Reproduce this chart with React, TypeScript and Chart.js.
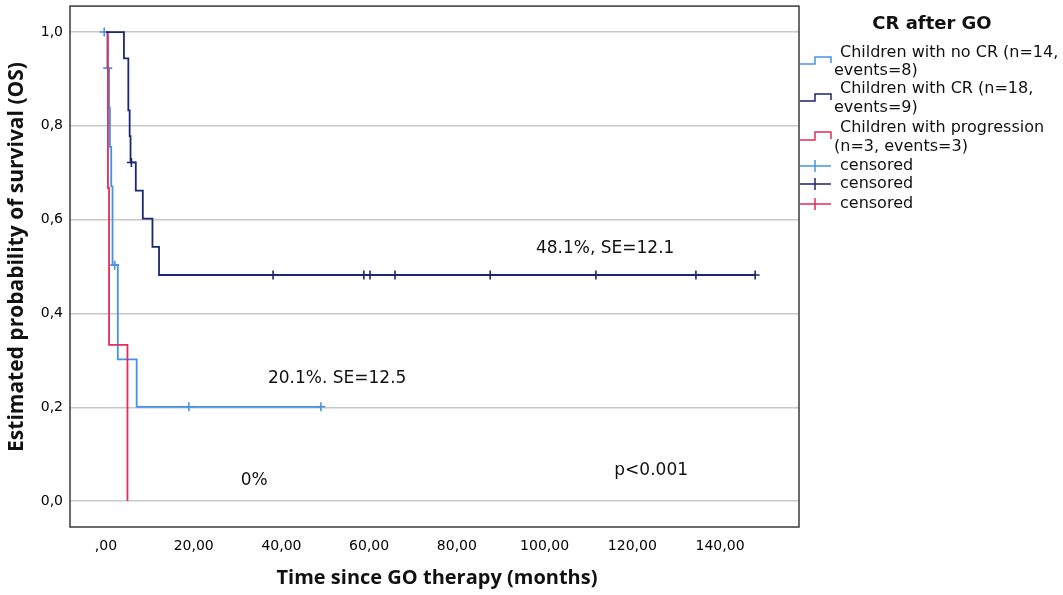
import { useEffect, useRef } from "react";
import { Chart, registerables } from "chart.js";
import type { Plugin } from "chart.js";

Chart.register(...registerables);

// axis ticks
const xTicks = [0, 20, 40, 60, 80, 100, 120, 140];
const xTickLabels = [",00", "20,00", "40,00", "60,00", "80,00", "100,00", "120,00", "140,00"];
const yTicks = [0, 0.2, 0.4, 0.6, 0.8, 1.0];
const yTickLabels = ["0,0", "0,2", "0,4", "0,6", "0,8", "1,0"];

// Children with no CR (n=14, events=8)
const noCrTimes = [0, 0.3, 0.7, 0.9, 1.2, 1.5, 2.7, 7.0, 49.0];
const noCrSurvival = [1, 0.923, 0.839, 0.755, 0.671, 0.503, 0.302, 0.201, 0.201];
const noCrCensorTimes = [-0.4, 0.4, 2.0, 18.9, 49.0];
const noCrCensorSurvival = [1, 0.923, 0.503, 0.201, 0.201];

// Children with CR (n=18, events=9)
const crTimes = [0, 4.1, 5.1, 5.4, 5.6, 6.8, 8.4, 10.6, 12.1, 148.0];
const crSurvival = [1, 0.944, 0.833, 0.778, 0.722, 0.662, 0.602, 0.542, 0.482, 0.482];
const crCensorTimes = [5.8, 38.1, 58.8, 60.2, 65.9, 87.6, 111.7, 134.5, 148.0];
const crCensorSurvival = [0.722, 0.482, 0.482, 0.482, 0.482, 0.482, 0.482, 0.482, 0.482];

// Children with progression (n=3, events=3)
const progTimes = [0, 0.45, 0.7, 4.9];
const progSurvival = [1, 0.667, 0.333, 0];

const legendTitle = "CR after GO";
const legendSeries = [
	["Children with no CR (n=14,", "events=8)"],
	["Children with CR (n=18,", "events=9)"],
	["Children with progression", "(n=3, events=3)"],
];
const censoredLabel = "censored";

const annotations = [
	{ text: "48.1%, SE=12.1", x: 113.8, y: 0.538 },
	{ text: "20.1%. SE=12.5", x: 52.7, y: 0.262 },
	{ text: "0%", x: 33.8, y: 0.043 },
	{ text: "p<0.001", x: 124.3, y: 0.066 },
];

const xTitle = "Time since GO therapy (months)";
const yTitle = "Estimated probability of survival (OS)";

const LIGHT = "#4592e6";
const NAVY = "#1c2672";
const RED = "#e42c5a";
const colors = [LIGHT, NAVY, RED];

const toPoints = (xs: number[], ys: number[]) => xs.map((x, i) => ({ x, y: ys[i] }));

const decorPlugin: Plugin = {
	id: "decor",
	afterDraw(chart) {
		const { ctx, chartArea } = chart;
		const xs = chart.scales.x;
		const ys = chart.scales.y;
		ctx.save();

		// frame
		ctx.strokeStyle = "#3a3a3a";
		ctx.lineWidth = 1.5;
		ctx.strokeRect(chartArea.left, chartArea.top, chartArea.right - chartArea.left, chartArea.bottom - chartArea.top);

		// annotations
		ctx.fillStyle = "#111";
		ctx.font = "17px 'DejaVu Sans'";
		ctx.textAlign = "center";
		ctx.textBaseline = "middle";
		annotations.forEach((a) => {
			ctx.fillText(a.text, xs.getPixelForValue(a.x), ys.getPixelForValue(a.y));
		});

		// axis titles
		ctx.font = "bold 20px 'Open Sans', sans-serif";
		ctx.fillText(xTitle, 437, 578);
		ctx.save();
		ctx.translate(17, 257);
		ctx.rotate(-Math.PI / 2);
		ctx.font = "bold 21px 'Open Sans', sans-serif";
		ctx.fillText(yTitle, 0, 0);
		ctx.restore();

		// legend
		ctx.font = "bold 18px 'DejaVu Sans'";
		ctx.fillText(legendTitle, 932, 24);
		ctx.font = "16px 'DejaVu Sans'";
		ctx.textAlign = "left";
		const stepY = [[64, 57], [101, 94], [140, 132]];
		const textY = [[53, 71], [89, 108], [128, 147]];
		legendSeries.forEach((lines, i) => {
			ctx.strokeStyle = colors[i];
			ctx.lineWidth = 1.5;
			const [lo, hi] = stepY[i];
			ctx.beginPath();
			ctx.moveTo(800, lo);
			ctx.lineTo(815, lo);
			ctx.lineTo(815, hi);
			ctx.lineTo(831, hi);
			ctx.lineTo(831, lo - 1);
			ctx.stroke();
			ctx.fillStyle = "#111";
			ctx.fillText(lines[0], 840, textY[i][0]);
			ctx.fillText(lines[1], 834, textY[i][1]);
		});
		const censorY = [166, 184, 204];
		censorY.forEach((y, i) => {
			ctx.strokeStyle = colors[i];
			ctx.lineWidth = 1.5;
			ctx.beginPath();
			ctx.moveTo(800, y);
			ctx.lineTo(831, y);
			ctx.moveTo(815, y - 6);
			ctx.lineTo(815, y + 6);
			ctx.stroke();
			ctx.fillStyle = "#111";
			ctx.fillText(censoredLabel, 840, y);
		});
		ctx.restore();
	},
};

export default function App() {
	const chartRef = useRef<HTMLCanvasElement>(null);
	const chartInstance = useRef<Chart | null>(null);

	useEffect(() => {
		document.body.style.margin = "0";
		if (!chartRef.current) return;
		if (chartInstance.current) {
			chartInstance.current.destroy();
		}
		const ctx = chartRef.current.getContext("2d");
		if (!ctx) return;

		const curve = (data: { x: number; y: number }[], color: string) => ({
			type: "line" as const,
			data,
			borderColor: color,
			borderWidth: 1.8,
			stepped: true,
			pointRadius: 0,
			fill: false,
		});
		const censor = (data: { x: number; y: number }[], color: string) => ({
			type: "scatter" as const,
			data,
			borderColor: color,
			backgroundColor: color,
			borderWidth: 1.6,
			pointStyle: "cross" as const,
			pointRadius: 4.5,
			showLine: false,
		});

		chartInstance.current = new Chart(ctx, {
			type: "line",
			data: {
				datasets: [
					curve(toPoints(crTimes, crSurvival), NAVY),
					censor(toPoints(crCensorTimes, crCensorSurvival), NAVY),
					curve(toPoints(progTimes, progSurvival), RED),
					curve(toPoints(noCrTimes, noCrSurvival), LIGHT),
					censor(toPoints(noCrCensorTimes, noCrCensorSurvival), LIGHT),
				] as any,
			},
			options: {
				responsive: false,
				animation: false,
				devicePixelRatio: 1,
				layout: { padding: { left: 0, top: 5, right: 264, bottom: 0 } },
				plugins: {
					legend: { display: false },
					tooltip: { enabled: false },
				},
				scales: {
					x: {
						type: "linear",
						min: -8.2,
						max: 158,
						afterBuildTicks: (s) => {
							s.ticks = xTicks.map((value) => ({ value }));
						},
						afterFit: (s: any) => {
							s.height = 68;
							s.paddingLeft = 0;
							s.paddingRight = 0;
						},
						ticks: {
							callback: (v) => xTickLabels[xTicks.indexOf(Number(v))] ?? "",
							font: { family: "'DejaVu Sans'", size: 14 },
							color: "#000",
							padding: 3,
							maxRotation: 0,
						},
						grid: { display: false },
						border: { display: false },
					},
					y: {
						type: "linear",
						min: -0.0553,
						max: 1.0553,
						afterBuildTicks: (s) => {
							s.ticks = yTicks.map((value) => ({ value }));
						},
						afterFit: (s: any) => {
							s.width = 70;
							s.paddingTop = 0;
							s.paddingBottom = 0;
						},
						ticks: {
							callback: (v) => yTickLabels[yTicks.indexOf(Number(v))] ?? "",
							font: { family: "'DejaVu Sans'", size: 14 },
							color: "#000",
							padding: 7,
						},
						grid: { color: "#c8c8c8", lineWidth: 1.5, drawTicks: false },
						border: { display: false },
					},
				},
			},
			plugins: [decorPlugin],
		});

		return () => {
			if (chartInstance.current) {
				chartInstance.current.destroy();
				chartInstance.current = null;
			}
		};
	}, []);

	return (
		<div style={{ width: 1063, height: 595, background: "#fff" }}>
			<canvas ref={chartRef} width={1063} height={595} />
		</div>
	);
}
